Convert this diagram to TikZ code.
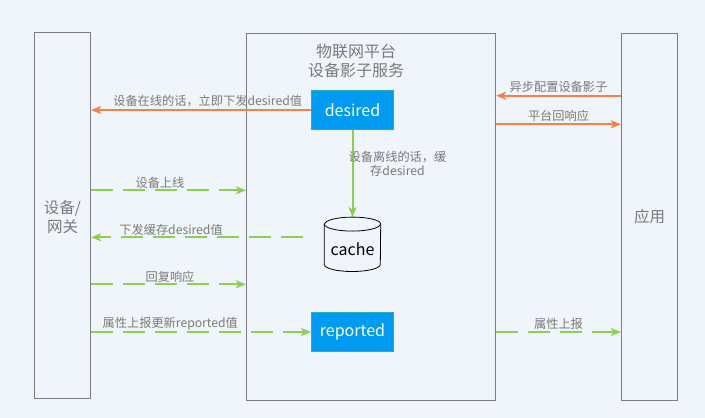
\documentclass[tikz,border=0pt]{standalone}
\usepackage{fontspec}
\setmainfont{Noto Sans CJK SC}
\usetikzlibrary{arrows.meta}
\definecolor{bg}{RGB}{240,245,251}
\definecolor{edgegray}{RGB}{125,125,125}
\definecolor{txtgray}{RGB}{122,122,122}
\definecolor{orangeline}{RGB}{248,128,70}
\definecolor{greenline}{RGB}{141,208,80}
\definecolor{bluefill}{RGB}{0,155,240}
\definecolor{blueedge}{RGB}{40,172,190}
\tikzset{
  lane/.style={draw=edgegray, line width=1.2pt, inner sep=0pt, fill=bg},
  bluebox/.style={draw=blueedge, line width=1.2pt, fill=bluefill, text=white, minimum width=81.6pt, minimum height=38.3pt, inner sep=0pt, font=\fontsize{16}{19}\selectfont},
  tip/.style={-{Stealth[length=10pt,width=8pt,inset=2.5pt]}},
  orangearrow/.style={tip, draw=orangeline, line width=2pt},
  greenarrow/.style={tip, draw=greenline, line width=2pt},
  greendash/.style={greenarrow, dash pattern=on 22pt off 10pt},
  lbl/.style={text=txtgray, font=\fontsize{12.2}{14.7}\selectfont, inner sep=0pt, align=center},
  lanetext/.style={text=txtgray, font=\fontsize{15.5}{19}\selectfont, align=center}
}
\begin{document}
\begin{tikzpicture}[x=1pt,y=-1pt]
\fill[bg] (0,0) rectangle (705,418);
\useasboundingbox (0,0) rectangle (705,418);

% lanes
\node[lane, minimum width=56pt, minimum height=366pt] (dev) at (62.5,215.5) {};
\node[lane, minimum width=249pt, minimum height=367pt] (platform) at (371,217) {};
\node[lane, minimum width=56pt, minimum height=367pt] (app) at (649.5,217) {};

\node[lanetext] (devtext) at (62.5,217.5) {设备/\\网关};
\node[lanetext] (apptext) at (649.5,217) {应用};
\node[text=txtgray, font=\fontsize{16}{19}\selectfont, align=center] (title) at (356,60.5) {物联网平台\\设备影子服务};

% inner nodes
\node[bluebox] (desired) at (352.5,110) {\raisebox{-1.5pt}{desired}};
\node[bluebox] (reported) at (352.5,332) {\raisebox{-1.5pt}{reported}};
\node[minimum width=56pt, minimum height=54pt, inner sep=0pt] (cache) at (352.5,244.3) {};
\draw[black, line width=0.8pt, fill=bg]
  ([yshift=-7pt]cache.north west) -- ([yshift=7pt]cache.south west)
  arc[start angle=180, end angle=360, x radius=28pt, y radius=7pt]
  -- ([yshift=-7pt]cache.north east)
  arc[start angle=0, end angle=180, x radius=28pt, y radius=7pt] -- cycle;
\draw[black, line width=0.8pt] ([yshift=-7pt]cache.north west)
  arc[start angle=180, end angle=360, x radius=28pt, y radius=7pt];
\node[font=\fontsize{16}{19}\selectfont, text=black] (cachetext) at (352.5,249) {cache};

% connectors
\draw[orangearrow] (desired.west) -- (desired.west -| dev.east)
  node[lbl, pos=0.47, yshift=9pt] {设备在线的话，立即下发desired值};
\draw[greenarrow] (desired.south) -- (cache.north)
  node[lbl, pos=0.39, xshift=45pt] {设备离线的话，缓\\存desired};
\draw[orangearrow] ([yshift=121.3pt]app.west) -- ([yshift=121.3pt]platform.east)
  node[lbl, midway, yshift=9pt] {异步配置设备影子};
\draw[orangearrow] ([yshift=92.7pt]platform.east) -- ([yshift=92.7pt]app.west)
  node[lbl, midway, yshift=8.6pt] {平台回响应};
\draw[greendash] ([yshift=26.7pt]platform.west -| dev.east) -- ([yshift=26.7pt]platform.west)
  node[lbl, pos=0.445, yshift=7.6pt] {设备上线};
\draw[greendash, dash phase=22pt] ([xshift=-11pt, yshift=7pt]cache.west) -- ([yshift=7pt]cache.west -| dev.east)
  node[lbl, pos=0.64, yshift=7.3pt] {下发缓存desired值};
\draw[greendash] ([yshift=-67.3pt]platform.west -| dev.east) -- ([yshift=-67.3pt]platform.west)
  node[lbl, pos=0.51, yshift=7.6pt] {回复响应};
\draw[greendash] (reported.west -| dev.east) -- (reported.west)
  node[lbl, pos=0.36, yshift=8.3pt] {属性上报更新reported值};
\draw[greendash] (reported.east -| platform.east) -- (reported.east -| app.west)
  node[lbl, midway, yshift=8.3pt] {属性上报};
\end{tikzpicture}
\end{document}
